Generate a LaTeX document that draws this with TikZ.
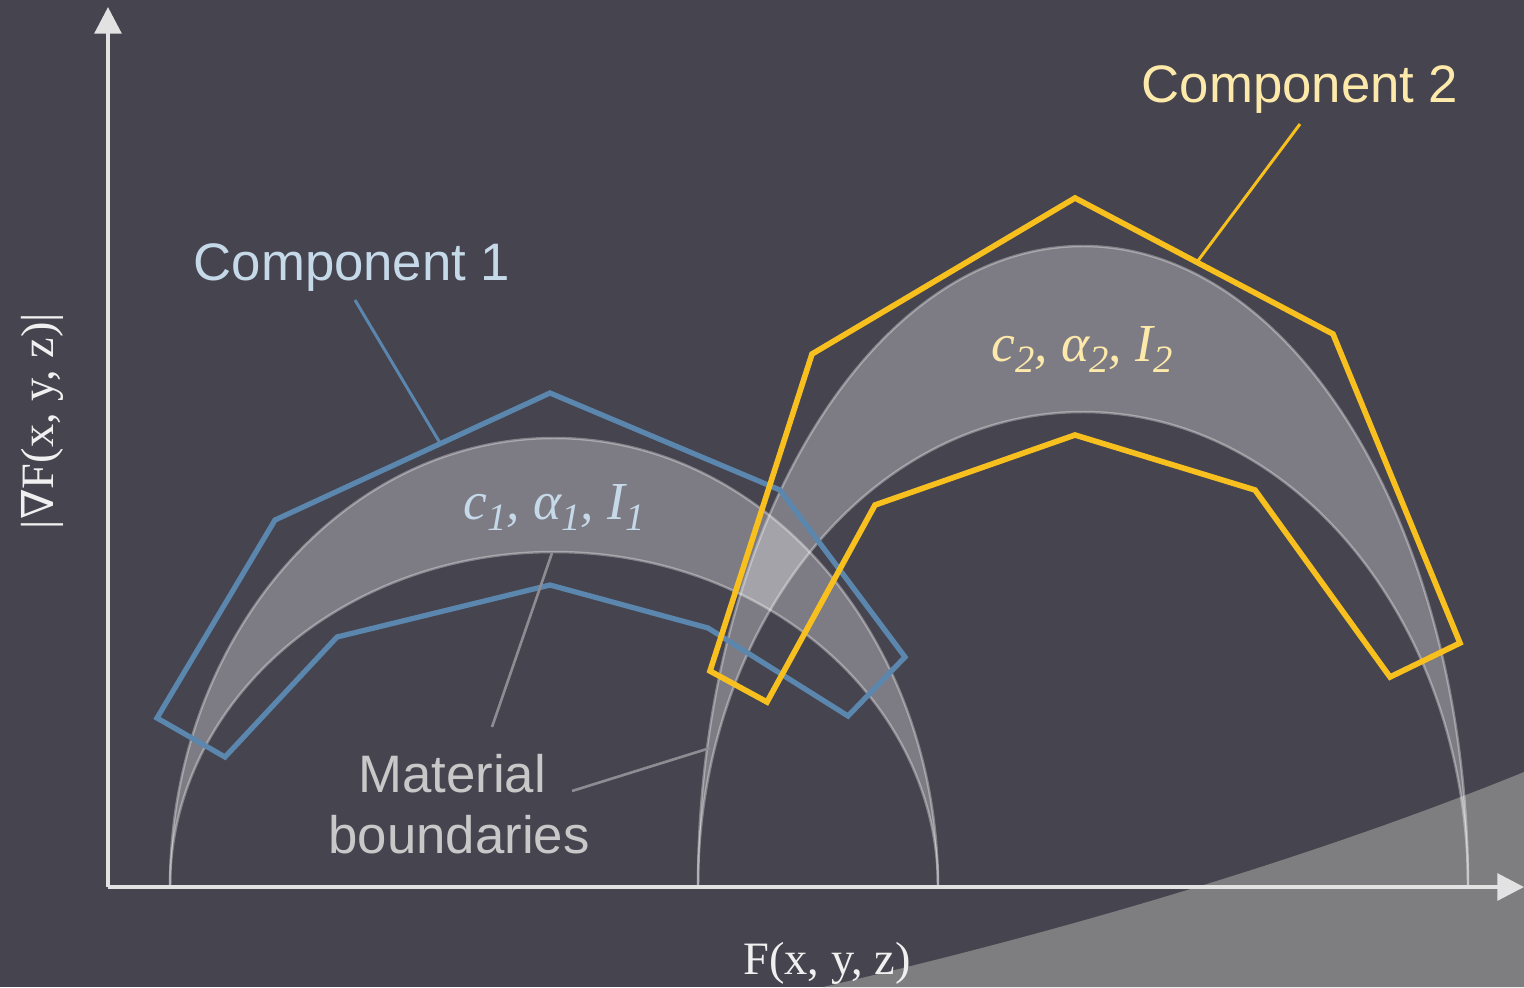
\documentclass[tikz,border=0pt]{standalone}
\usepackage{fontspec}
\setmainfont{Liberation Serif}
\newfontfamily\arialf{Liberation Sans}
\newfontfamily\dvserif{DejaVu Serif}
\usetikzlibrary{arrows.meta}
\definecolor{bg}{RGB}{69,68,79}
\definecolor{axisc}{RGB}{226,226,226}
\definecolor{blueC}{RGB}{91,134,174}
\definecolor{yelC}{RGB}{248,192,30}
\definecolor{blueT}{RGB}{198,217,232}
\definecolor{yelT}{RGB}{253,233,170}
\definecolor{matT}{RGB}{200,200,200}
\definecolor{leadG}{RGB}{140,140,146}
\definecolor{patG}{RGB}{126,126,128}
\newcommand{\lsub}[1]{\raisebox{-0.45ex}{\fontsize{11}{11}\selectfont\itshape #1}}
\begin{document}
\begin{tikzpicture}[x=0.01cm,y=-0.01cm,
  axis/.style={draw=axisc,line width=1.15pt,-{Triangle[width=7.6pt,length=7.6pt]}},
  band/.style={fill=white,fill opacity=0.3,even odd rule},
  bound/.style={draw=white,draw opacity=0.34,line width=0.7pt},
  comp1/.style={draw=blueC,line width=1.5pt,line join=miter},
  comp2/.style={draw=yelC,line width=1.6pt,line join=miter},
  lead1/.style={draw=blueC,line width=0.85pt},
  lead2/.style={draw=yelC,line width=0.85pt},
  leadm/.style={draw=leadG,line width=0.75pt},
  sanslab/.style={font=\arialf\fontsize{15}{18}\selectfont,inner sep=0pt},
  mathlab/.style={font=\fontsize{15.2}{18}\selectfont\itshape,inner sep=0pt},
  axlab/.style={font=\fontsize{13.2}{16}\selectfont,text=white!94!black,inner sep=0pt}]
\useasboundingbox (0,0) rectangle (1524,987);
\fill[bg] (0,0) rectangle (1524,987);
% gray region bottom right
\fill[patG] (823,987) .. controls (1070,930) and (1320,855) .. (1524,772) -- (1524,987) -- cycle;
% material bands
\begin{scope}
\clip (0,0) rectangle (1524,887);
\fill[band] (554,887) ellipse[x radius=384,y radius=449] (554,887) ellipse[x radius=384,y radius=335];
\fill[band] (1083,887) ellipse[x radius=385,y radius=641] (1083,887) ellipse[x radius=385,y radius=475];
\draw[bound] (554,887) ellipse[x radius=384,y radius=449];
\draw[bound] (554,887) ellipse[x radius=384,y radius=335];
\draw[bound] (1083,887) ellipse[x radius=385,y radius=641];
\draw[bound] (1083,887) ellipse[x radius=385,y radius=475];
\end{scope}
% component polygons
\draw[comp1] (275,520) -- (550,393) -- (780,490) -- (905,657) -- (848,716) -- (708,628) -- (550,585) -- (337,637) -- (225,757) -- (157,718) -- cycle;
\draw[comp2] (812,354) -- (1075,198) -- (1333,334) -- (1460,643) -- (1390,677) -- (1255,490) -- (1075,435) -- (875,505) -- (767,702) -- (710,671) -- cycle;
% axes
\coordinate (O) at (108,887);
\coordinate (ytip) at (108,7);
\coordinate (xtip) at (1524,887);
\draw[axis] (O) -- (ytip);
\draw[axis] (O) -- (xtip);
% labels
\node[sanslab,text=blueT,anchor=base] (c1lab) at (352,280) {Component 1};
\node[sanslab,text=yelT,anchor=base] (c2lab) at (1300,102) {Component 2};
\node[sanslab,text=matT,anchor=base] (matA) at (452,792) {Material};
\node[sanslab,text=matT,anchor=base] (matB) at (459,853) {boundaries};
\node[mathlab,text=blueT,anchor=base] (p1) at (554,519) {c\lsub{1}, α\lsub{1}, I\lsub{1}};
\node[mathlab,text=yelT,anchor=base] (p2) at (1082,361) {c\lsub{2}, α\lsub{2}, I\lsub{2}};
\node[axlab,anchor=base] (xlab) at (827,974) {F(x, y, z)};
\node[axlab,anchor=base,rotate=90] (ylab) at (53,421) {|{\dvserif\fontsize{12.5}{16}\selectfont ∇}F(x, y, z)|};
% leaders
\coordinate (c1s) at (355,300);
\coordinate (c1e) at (440,443);
\coordinate (c2s) at (1300,124);
\coordinate (c2e) at (1197,262);
\coordinate (m1s) at (492,727);
\coordinate (m1e) at (552,553);
\coordinate (m2s) at (572,791);
\coordinate (m2e) at (710,748);
\draw[lead1] (c1s) -- (c1e);
\draw[lead2] (c2s) -- (c2e);
\draw[leadm] (m1s) -- (m1e);
\draw[leadm] (m2s) -- (m2e);
\end{tikzpicture}
\end{document}
